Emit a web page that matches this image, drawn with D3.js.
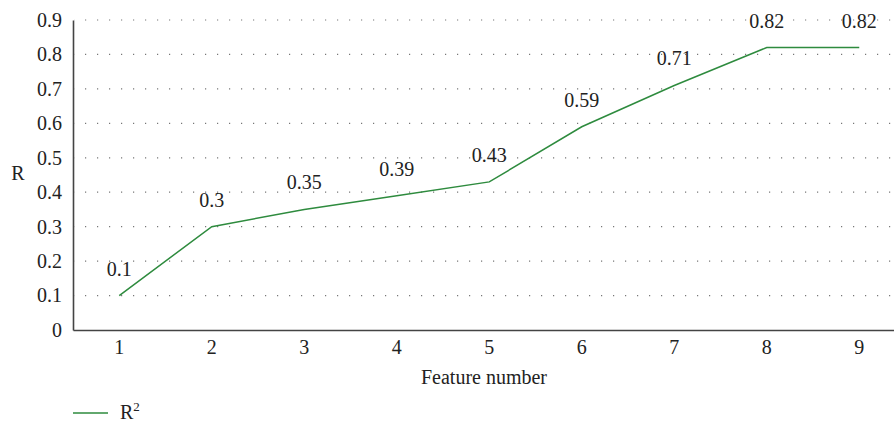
<!DOCTYPE html>
<html><head><meta charset="utf-8">
<script src="https://cdn.jsdelivr.net/npm/d3@7"></script>
<style>body{margin:0;background:#fff}svg{display:block}svg text{font-family:"Liberation Serif","Times New Roman",serif !important;}</style>
</head><body>
<svg id="c" width="894" height="424"></svg>
<script>
const categories = ["1","2","3","4","5","6","7","8","9"];
const values = [0.1, 0.3, 0.35, 0.39, 0.43, 0.59, 0.71, 0.82, 0.82];
const yTicks = [0, 0.1, 0.2, 0.3, 0.4, 0.5, 0.6, 0.7, 0.8, 0.9];
const seriesName = "R";
const xTitle = "Feature number";
const yTitle = "R";

(function () {
const svg = d3.select("#c");
const fs = 20;
const mLeft = 73, mBottom = 330, mTop = 20;
const x = d3.scaleBand().domain(categories).range([mLeft, mLeft + 9 * 92.5]);
const y = d3.scaleLinear().domain([0, 0.9]).range([mBottom, mTop]);

svg.append("g").selectAll("line").data(yTicks.filter(d => d > 0)).join("line")
  .attr("x1", mLeft + 1).attr("x2", 894)
  .attr("y1", d => y(d)).attr("y2", d => y(d))
  .attr("stroke", "#777").attr("stroke-width", 1.2)
  .attr("stroke-dasharray", "1.2,10.8").attr("stroke-dashoffset", -11);

const yAxis = svg.append("g").attr("transform", `translate(${mLeft},0)`)
  .call(d3.axisLeft(y).tickValues(yTicks).tickSize(0).tickPadding(11).tickFormat(d => d === 0 ? "0" : d3.format(".1f")(d)));
const xAxis = svg.append("g").attr("transform", `translate(0,${mBottom})`)
  .call(d3.axisBottom(x).tickSize(0).tickPadding(10));
[yAxis, xAxis].forEach(a => {
  a.select(".domain").attr("stroke", "#444").attr("stroke-width", 1.6);
  a.selectAll("text").attr("font-size", fs).attr("fill", "#222");
});

const line = d3.line().x((d, i) => x(categories[i]) + x.bandwidth() / 2).y(d => y(d));
svg.append("path").datum(values).attr("d", line)
  .attr("fill", "none").attr("stroke", "#2e8b3e").attr("stroke-width", 1.5);

svg.append("g").selectAll("text").data(values).join("text")
  .attr("x", (d, i) => x(categories[i]) + x.bandwidth() / 2)
  .attr("y", d => y(d) - 20)
  .attr("text-anchor", "middle")
  .attr("font-size", fs).attr("fill", "#222")
  .text(d => String(d));

svg.append("text").attr("x", 18).attr("y", 180).attr("text-anchor", "middle")
  .attr("font-size", fs).attr("fill", "#222").text(yTitle);
svg.append("text").attr("x", 484).attr("y", 384).attr("text-anchor", "middle")
  .attr("font-size", fs).attr("fill", "#222").text(xTitle);

svg.append("line").attr("x1", 73).attr("x2", 108).attr("y1", 413).attr("y2", 413)
  .attr("stroke", "#2e8b3e").attr("stroke-width", 1.5);
const lt = svg.append("text").attr("x", 120).attr("y", 419)
  .attr("font-size", fs).attr("fill", "#222");
lt.append("tspan").text(seriesName);
lt.append("tspan").attr("font-size", 13).attr("dy", -8).text("2");
})();
</script>
</body></html>
